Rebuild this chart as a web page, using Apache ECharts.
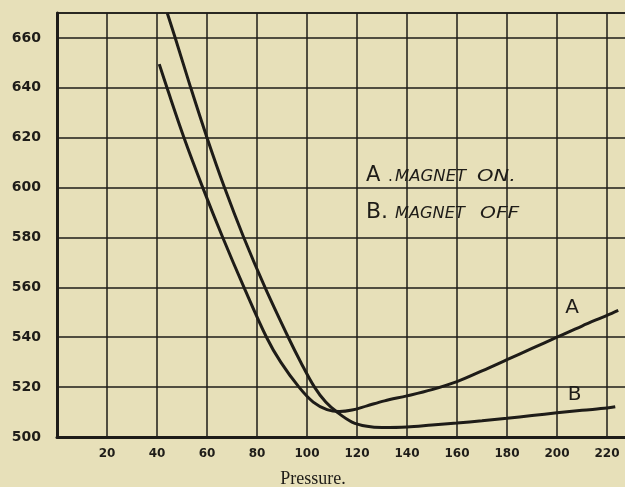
<!DOCTYPE html>
<html>
<head>
<meta charset="utf-8">
<script src="https://cdn.jsdelivr.net/npm/echarts@6/dist/echarts.min.js"></script>
<style>
  html, body { margin: 0; padding: 0; background: #e7e0b9; }
  #main { width: 625px; height: 487px; }
</style>
</head>
<body>
<div id="main"></div>
<script>
// curve A - magnet on
var aPressure = [40.9, 44, 50.8, 58.3, 66.3, 74.8, 83.8, 89.5, 96.8, 102.5, 108, 113, 118, 124, 131, 140, 150, 160, 170, 180, 190, 200, 210, 220, 224.5];
var aValue    = [649.5, 640, 620, 600, 580, 560, 540, 530, 520, 514, 511, 510.2, 510.8, 512.5, 514.5, 516.5, 519, 522.2, 526.5, 531, 535.5, 540, 544.5, 548.8, 550.8];

// curve B - magnet off
var bPressure = [44.1, 47.3, 53.5, 60, 67, 74.7, 83.2, 92.5, 97.5, 103, 107.5, 112, 118, 124, 130, 140, 150, 160, 170, 180, 190, 200, 210, 220, 223.3];
var bValue    = [670, 660, 640, 620, 600, 580, 560, 540, 530, 520, 514, 510, 506, 504.3, 503.8, 504, 504.8, 505.6, 506.5, 507.5, 508.6, 509.7, 510.7, 511.6, 512.1];

var xTicks = [20, 40, 60, 80, 100, 120, 140, 160, 180, 200, 220];
var yTicks = [500, 520, 540, 560, 580, 600, 620, 640, 660];

function pairs(xs, ys) {
  return xs.map(function (x, i) { return [x, ys[i]]; });
}

var ink = '#1e1c18';
var chartDom = document.getElementById('main');
var myChart = echarts.init(chartDom);
var option;

// hand-lettered note, stretched sideways a little
function note(left, top, text, size, italic, sx) {
  return {
    type: 'text',
    left: left,
    top: top,
    scaleX: sx || 1,
    style: {
      text: text,
      fill: ink,
      font: (italic ? 'italic ' : '') + size + 'px "DejaVu Sans"'
    }
  };
}

option = {
  backgroundColor: '#e7e0b9',
  animation: false,
  grid: {
    left: 57, top: 13, right: -2, bottom: 50,
    outerBoundsMode: 'none',
    containLabel: false,
    show: true,
    borderColor: ink,
    borderWidth: 1.5
  },
  xAxis: {
    type: 'value',
    min: 0,
    max: 228,
    interval: 20,
    axisLine: { show: true, lineStyle: { color: ink, width: 3 } },
    axisTick: { show: false },
    splitLine: { show: true, lineStyle: { color: ink, width: 1.5 } },
    axisLabel: {
      color: ink,
      fontFamily: 'DejaVu Sans',
      fontWeight: 'bold',
      fontSize: 12,
      margin: 11,
      formatter: function (v) { return xTicks.indexOf(v) >= 0 ? String(v) : ''; }
    },
    name: 'Pressure.',
    nameLocation: 'middle',
    nameGap: 33,
    nameTextStyle: {
      color: ink,
      fontFamily: 'Liberation Serif',
      fontSize: 18,
      padding: [0, 58, 0, 0]
    }
  },
  yAxis: {
    type: 'value',
    min: 500,
    max: 670,
    interval: 20,
    axisLine: { show: true, lineStyle: { color: ink, width: 3 } },
    axisTick: { show: false },
    splitLine: { show: true, lineStyle: { color: ink, width: 1.5 } },
    axisLabel: {
      color: ink,
      fontFamily: 'DejaVu Sans',
      fontWeight: 'bold',
      fontSize: 14,
      margin: 16,
      formatter: function (v) { return yTicks.indexOf(v) >= 0 ? String(v) : ''; }
    }
  },
  graphic: [
    note(366, 165, 'A', 21, false),
    note(388, 170, '.', 15, false),
    note(395, 170, 'MAGNET', 15, true, 1.1),
    note(477, 170, 'ON.', 15, true, 1.4),
    note(366, 201, 'B.', 22, false),
    note(395, 207, 'MAGNET', 15, true, 1.08),
    note(480, 207, 'OFF', 15, true, 1.35)
  ],
  series: [
    {
      name: 'A',
      type: 'line',
      smooth: 0.35,
      showSymbol: false,
      lineStyle: { color: ink, width: 3 },
      data: pairs(aPressure, aValue),
      markPoint: {
        symbol: 'circle',
        symbolSize: 0,
        label: { show: true, position: 'inside', formatter: 'A', color: ink, fontFamily: 'DejaVu Sans', fontSize: 20 },
        data: [{ coord: [206, 552] }]
      }
    },
    {
      name: 'B',
      type: 'line',
      smooth: 0.35,
      showSymbol: false,
      lineStyle: { color: ink, width: 3 },
      data: pairs(bPressure, bValue),
      markPoint: {
        symbol: 'circle',
        symbolSize: 0,
        label: { show: true, position: 'inside', formatter: 'B', color: ink, fontFamily: 'DejaVu Sans', fontSize: 20 },
        data: [{ coord: [207, 517] }]
      }
    }
  ]
};

option && myChart.setOption(option);
</script>
</body>
</html>
